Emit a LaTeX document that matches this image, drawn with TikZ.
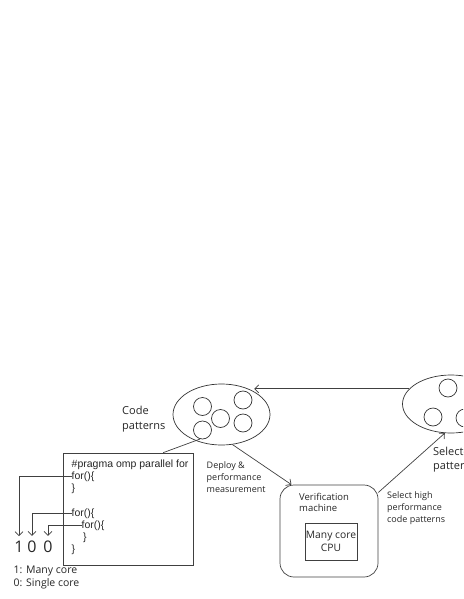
\documentclass[tikz,border=0pt]{standalone}
\usepackage{fontspec}
\setmainfont{Open Sans}
\newfontfamily\codefont{Liberation Sans}
\usetikzlibrary{shapes.geometric,arrows.meta}

\tikzset{
  blob/.style={draw=black!80, line width=0.7pt, ellipse, minimum width=97pt, minimum height=61pt, inner sep=0pt},
  pat/.style={draw=black!80, line width=0.7pt, circle, minimum size=18pt, inner sep=0pt},
  txt/.style={anchor=west, align=left, inner sep=0pt, text=black!85, font=\fontsize{9}{12}\selectfont},
  codeline/.style={anchor=west, inner sep=0pt, text=black!85, font=\codefont\fontsize{10.5}{12}\selectfont},
  bit/.style={inner xsep=0pt, inner ysep=5pt, text=black!85, font=\fontsize{16}{16}\selectfont},
  arr/.style={-{Straight Barb[length=4pt,width=8pt]}, line width=0.7pt, draw=black!75},
  link/.style={line width=0.7pt, draw=black!75},
}

\begin{document}
\begin{tikzpicture}[x=1pt, y=-1pt]
\useasboundingbox (0,0) rectangle (463,599);
\clip (0,0) rectangle (463,599);

% code patterns
\node[blob] (codepat) at (221.5,414.5) {};
\node[pat] (cp1) at (202.5,406.5) {};
\node[pat] (cp2) at (220.5,418.5) {};
\node[pat] (cp3) at (243,400) {};
\node[pat] (cp4) at (243,423) {};
\node[pat] (cp5) at (202.5,430) {};
\node[txt, font=\fontsize{11}{15}\selectfont] (cplbl) at (122,419.5) {Code\\patterns};

% selected patterns
\node[blob, minimum height=58pt] (selpat) at (451,404) {};
\node[pat] (sp1) at (448,388) {};
\node[pat] (sp2) at (433,417) {};
\node[pat] (sp3) at (465,418) {};
\node[txt, font=\fontsize{11}{14}\selectfont] (splbl) at (433,460) {Selected\\patterns};

% code box
\node[draw=black!75, line width=0.7pt, minimum width=130pt, minimum height=112pt, inner sep=0pt] (code) at (128,509) {};
\node[codeline] (l1) at (71.5,464.5) {\#pragma omp parallel for};
\node[codeline] (l2) at (71.5,476.7) {for()\{};
\node[codeline] (l3) at (71.5,488.9) {\}};
\node[codeline] (l5) at (71.5,513.3) {for()\{};
\node[codeline] (l6) at (81.5,525.5) {for()\{};
\node[codeline] (l7) at (83,537.7) {\}};
\node[codeline] (l8) at (71.5,549.9) {\}};

% bits
\node[bit] (b1) at (19,547) {1};
\node[bit] (b2) at (32,547) {0};
\node[bit] (b3) at (48,547) {0};
\node[txt, font=\fontsize{10.5}{13.5}\selectfont] (legend) at (13.5,577.5) {1: Many core\\0: Single core};

% verification machine
\node[draw=black!75, line width=0.7pt, rounded corners=14pt, minimum width=98pt, minimum height=92pt, inner sep=0pt] (verif) at (329,531) {};
\node[txt, font=\fontsize{9.5}{11.5}\selectfont] (vlbl) at (299,502.5) {Verification\\machine};
\node[draw=black!75, line width=0.7pt, minimum width=52pt, minimum height=37pt, inner sep=0pt, align=center, text=black!85, font=\fontsize{10.3}{12.5}\selectfont] (cpu) at (331,541.5) {Many core\\CPU};

\node[txt] (deploy) at (206.5,477) {Deploy \&\\performance\\measurement};
\node[txt] (select) at (387,508) {Select high\\performance\\code patterns};

% connectors
\draw[link] (cp5.255) -- (code.58);
\draw[arr] (l2.west) -| (b1.north);
\draw[arr] (l5.west) -| (b2.north);
\draw[arr] (l6.west) -| (b3.north);
\draw[arr] (codepat.290) -- (verif.129);
\draw[arr] (verif.38) -- (selpat.258);
\draw[arr] (selpat.160) -- (codepat.35 |- selpat.160);
\end{tikzpicture}
\end{document}
